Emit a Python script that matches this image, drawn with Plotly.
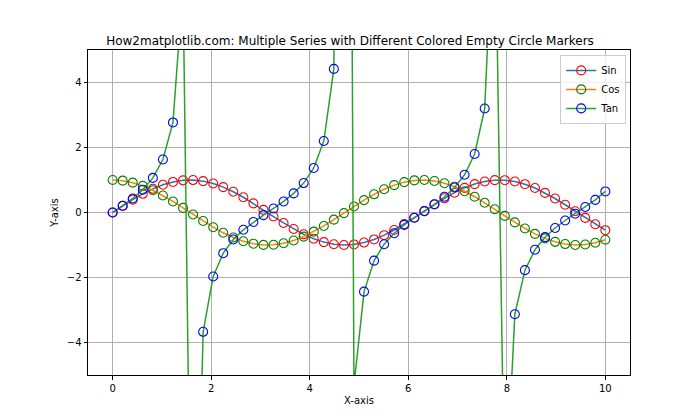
import plotly.graph_objects as go

x = [0.0, 0.20408, 0.40816, 0.61224, 0.81633, 1.02041, 1.22449, 1.42857, 1.63265, 1.83673,
     2.04082, 2.2449, 2.44898, 2.65306, 2.85714, 3.06122, 3.26531, 3.46939, 3.67347, 3.87755,
     4.08163, 4.28571, 4.4898, 4.69388, 4.89796, 5.10204, 5.30612, 5.5102, 5.71429, 5.91837,
     6.12245, 6.32653, 6.53061, 6.73469, 6.93878, 7.14286, 7.34694, 7.55102, 7.7551, 7.95918,
     8.16327, 8.36735, 8.57143, 8.77551, 8.97959, 9.18367, 9.38776, 9.59184, 9.79592, 10.0]

sin_vals = [0.0, 0.20267, 0.39692, 0.57471, 0.72864, 0.85232, 0.94063, 0.9899, 0.99809, 0.96485,
            0.89156, 0.78127, 0.63855, 0.46933, 0.28063, 0.08028, -0.1234, -0.32196, -0.50715, -0.6713,
            -0.80758, -0.91035, -0.97533, -0.99983, -0.98283, -0.92504, -0.82886, -0.69827, -0.53871, -0.35678,
            -0.16005, 0.04333, 0.24491, 0.43632, 0.60963, 0.75763, 0.87418, 0.95446, 0.99512, 0.99447,
            0.95255, 0.8711, 0.75349, 0.6046, 0.43063, 0.23878, 0.03701, -0.16628, -0.36268, -0.54402]

cos_vals = [1.0, 0.97925, 0.91785, 0.81836, 0.6849, 0.52302, 0.33943, 0.14175, -0.06182, -0.26282,
            -0.4529, -0.6242, -0.76958, -0.88302, -0.95982, -0.99677, -0.99236, -0.94675, -0.86186, -0.74119,
            -0.58976, -0.41385, -0.22076, -0.01851, 0.18451, 0.37987, 0.55946, 0.71583, 0.84249, 0.93419,
            0.98711, 0.99906, 0.96955, 0.89979, 0.79269, 0.65269, 0.4856, 0.29835, 0.09872, -0.10501,
            -0.30438, -0.49111, -0.65746, -0.79653, -0.90253, -0.97108, -0.99932, -0.98608, -0.93192, -0.83907]

tan_vals = [0.0, 0.20696, 0.43245, 0.70227, 1.06385, 1.62962, 2.77125, 6.98357, -16.1459, -3.67124,
            -1.96854, -1.25164, -0.82974, -0.5315, -0.29238, -0.08054, 0.12435, 0.34006, 0.58844, 0.9057,
            1.36935, 2.19972, 4.41806, 54.01, -5.32679, -2.43517, -1.48154, -0.97547, -0.63942, -0.38191,
            -0.16214, 0.04337, 0.2526, 0.48492, 0.76906, 1.16079, 1.80023, 3.19913, 10.0802, -9.47045,
            -3.12953, -1.77373, -1.14605, -0.75905, -0.47713, -0.24589, -0.03704, 0.16863, 0.38918, 0.64836]

series = [
    ("Sin", sin_vals, "#1f77b4", "red"),
    ("Cos", cos_vals, "#ff7f0e", "green"),
    ("Tan", tan_vals, "#2ca02c", "blue"),
]

fig = go.Figure()
for name, ys, lc, mc in series:
    fig.add_trace(go.Scatter(
        x=x, y=ys, name=name, mode="lines+markers",
        line=dict(color=lc, width=1.5),
        marker=dict(symbol="circle", size=9, color="rgba(0,0,0,0)",
                    line=dict(color=mc, width=1.1)),
    ))

axis_common = dict(
    showgrid=True, gridcolor="#b0b0b0", gridwidth=1,
    showline=True, linecolor="black", linewidth=1, mirror=True,
    ticks="outside", ticklen=3.5, tickcolor="black", zeroline=False,
    tickfont=dict(size=10, color="black"),
)

fig.update_layout(
    width=700, height=420,
    margin=dict(l=88, r=70, t=50, b=45),
    paper_bgcolor="white", plot_bgcolor="white",
    font=dict(family="DejaVu Sans", size=10, color="black"),
    title=dict(text="How2matplotlib.com: Multiple Series with Different Colored Empty Circle Markers",
               x=0.5, xanchor="center", y=0.902, yanchor="middle", yref="container",
               font=dict(size=12, color="black")),
    xaxis=dict(range=[-0.5, 10.5], tickvals=[0, 2, 4, 6, 8, 10],
               title=dict(text="X-axis", font=dict(size=10), standoff=4), **axis_common),
    yaxis=dict(range=[-5, 5], tickvals=[-4, -2, 0, 2, 4],
               title=dict(text="Y-axis", font=dict(size=10), standoff=6), **axis_common),
    legend=dict(x=0.993, y=0.985, xanchor="right", yanchor="top",
                bgcolor="rgba(255,255,255,0.8)", bordercolor="#cccccc", borderwidth=1,
                font=dict(size=10), itemwidth=30, tracegroupgap=0),
    showlegend=True,
)

fig.write_html("out.html")
